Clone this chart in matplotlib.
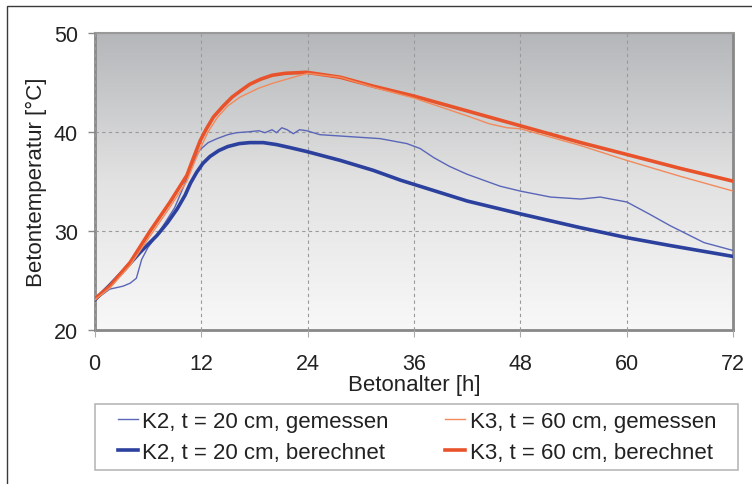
import matplotlib
matplotlib.use("Agg")
import matplotlib.pyplot as plt
import numpy as np
from matplotlib.colors import LinearSegmentedColormap
from matplotlib.patches import Rectangle

plt.rcParams["font.family"] = ["Liberation Sans", "DejaVu Sans"]

# K2, t = 20 cm, gemessen (thin blue)
k2_mess_x = [0, 1.7, 3.2, 4.0, 4.7, 5.3, 6.0, 7.0, 8.0, 9.0, 10.0, 10.8, 11.4,
             11.9, 12.8, 13.8, 15.0, 16.0, 17.5, 18.5, 19.2, 20.0, 20.5, 21.1,
             21.7, 22.4, 23.1, 23.9, 25.4, 28.8, 32.2, 35.2, 36.7, 38.2, 40.0,
             42.0, 45.7, 48.0, 51.4, 54.8, 57.0, 60.0, 62.5, 64.9, 68.7, 72]
k2_mess_y = [23.0, 24.1, 24.4, 24.7, 25.2, 27.1, 28.3, 29.5, 30.9, 32.3, 34.4,
             36.2, 37.5, 38.2, 38.9, 39.3, 39.7, 39.9, 40.0, 40.1, 39.9, 40.2,
             39.9, 40.4, 40.2, 39.8, 40.2, 40.1, 39.7, 39.5, 39.3, 38.8, 38.3,
             37.4, 36.5, 35.7, 34.5, 34.0, 33.4, 33.2, 33.4, 32.9, 31.7, 30.5,
             28.8, 28.0]

# K2, t = 20 cm, berechnet (thick blue)
k2_ber_x = [0, 1.7, 3.5, 5.1, 7.0, 8.2, 9.3, 10.2, 10.8, 11.5, 12.2, 13.0, 14.0,
            15.0, 16.3, 17.5, 19.0, 20.5, 22.0, 23.9, 27.7, 31.4, 34.5, 42.0,
            48.0, 54.8, 60.0, 64.9, 72]
k2_ber_y = [23.0, 24.5, 26.2, 27.8, 29.5, 30.8, 32.2, 33.6, 34.8, 35.9, 36.8,
            37.5, 38.1, 38.5, 38.8, 38.9, 38.9, 38.7, 38.4, 38.0, 37.1, 36.1,
            35.1, 33.0, 31.7, 30.3, 29.3, 28.5, 27.4]

# K3, t = 60 cm, gemessen (thin orange)
k3_mess_x = [0, 1.7, 4.0, 6.2, 8.5, 10.4, 11.2, 11.9, 12.8, 13.8, 15.0, 16.4,
             18.5, 20.1, 22.4, 24.0, 27.7, 31.4, 36.0, 42.0, 44.5, 46.5, 48.0,
             54.8, 60.0, 66.0, 72]
k3_mess_y = [23.0, 24.2, 26.5, 29.4, 32.4, 35.0, 36.8, 38.3, 40.0, 41.4, 42.6,
             43.5, 44.4, 44.9, 45.5, 45.9, 45.5, 44.5, 43.4, 41.6, 40.8, 40.4,
             40.3, 38.6, 37.1, 35.5, 34.0]

# K3, t = 60 cm, berechnet (thick red)
k3_ber_x = [0, 1.7, 4.0, 6.2, 8.5, 10.4, 11.2, 11.9, 12.6, 13.4, 14.5, 15.5,
            16.4, 17.5, 18.7, 20.0, 21.5, 23.9, 27.7, 31.4, 36.0, 42.0, 48.0,
            54.8, 60.0, 66.0, 72]
k3_ber_y = [23.1, 24.4, 26.8, 29.9, 32.9, 35.6, 37.5, 39.1, 40.3, 41.5, 42.6,
            43.5, 44.1, 44.8, 45.3, 45.7, 45.9, 46.0, 45.5, 44.6, 43.6, 42.1,
            40.6, 38.9, 37.7, 36.3, 35.0]

x_ticks = [0, 12, 24, 36, 48, 60, 72]
y_ticks = [20, 30, 40, 50]

fig = plt.figure(figsize=(7.52, 4.85), dpi=100)
ax = fig.add_axes([0.1259, 0.3181, 0.8492, 0.6124])

# grey gradient background of the plot area
grad = np.linspace(0, 1, 256).reshape(-1, 1)
cmap = LinearSegmentedColormap.from_list("bg", ["#f8f8f8", "#e2e2e2", "#b4b6b9"])
ax.imshow(grad, extent=(0, 72, 20, 50), origin="lower", aspect="auto",
          cmap=cmap, zorder=0)

ax.plot(k2_mess_x, k2_mess_y, color="#5a66b8", lw=1.0, zorder=3,
        label="K2, t = 20 cm, gemessen")
ax.plot(k2_ber_x, k2_ber_y, color="#2c409e", lw=2.6, zorder=3,
        label="K2, t = 20 cm, berechnet")
ax.plot(k3_mess_x, k3_mess_y, color="#f28a5c", lw=1.0, zorder=4,
        label="K3, t = 60 cm, gemessen")
ax.plot(k3_ber_x, k3_ber_y, color="#e8532b", lw=2.6, zorder=3,
        label="K3, t = 60 cm, berechnet")

ax.set_xlim(0, 72)
ax.set_ylim(20, 50)
ax.set_xticks(x_ticks)
ax.set_yticks(y_ticks)
ax.grid(True, color="#9a9a9a", lw=0.8, linestyle=(0, (3, 3)), zorder=1)
ax.set_axisbelow(False)
for g in ax.get_xgridlines() + ax.get_ygridlines():
    g.set_zorder(1)

ax.tick_params(axis="y", direction="out", length=5, width=1, color="#888888",
               labelsize=15.5, labelcolor="#222222", pad=7)
ax.tick_params(axis="x", direction="out", length=5, width=0.8, color="#aaaaaa",
               labelsize=15.5, labelcolor="#222222", pad=12)

for side in ["left", "bottom", "right"]:
    ax.spines[side].set_color("#888888")
    ax.spines[side].set_linewidth(2)
ax.spines["top"].set_color("#999999")
ax.spines["top"].set_linewidth(1.5)

ax.set_xlabel("Betonalter [h]", fontsize=16, color="#222222", labelpad=0)
ax.set_ylabel("Betontemperatur [°C]", fontsize=16, color="#222222", labelpad=5)

# legend frame and outer frame
W, H = 752, 485
fig.patches.append(Rectangle((95 / W, 1 - 471 / H), 643 / W, 66 / H,
                             transform=fig.transFigure, fill=False,
                             edgecolor="#b8b8b8", lw=1.2))
fig.patches.append(Rectangle((7 / W, -0.05), 1.0, 1 - 7 / H + 0.05,
                             transform=fig.transFigure, fill=False,
                             edgecolor="#3a3a3a", lw=1.0))

handles, labels = ax.get_legend_handles_labels()
fig.legend(handles, labels,
           ncol=2, mode="expand", loc="center",
           bbox_to_anchor=(118 / W, 1 - 468 / H, 598 / W, 60 / H),
           bbox_transform=fig.transFigure, frameon=False, fontsize=16,
           handlelength=0.9, handletextpad=0.2, borderpad=0, borderaxespad=0,
           labelspacing=0.45, labelcolor="#222222")

fig.savefig("out.png", dpi=100)
